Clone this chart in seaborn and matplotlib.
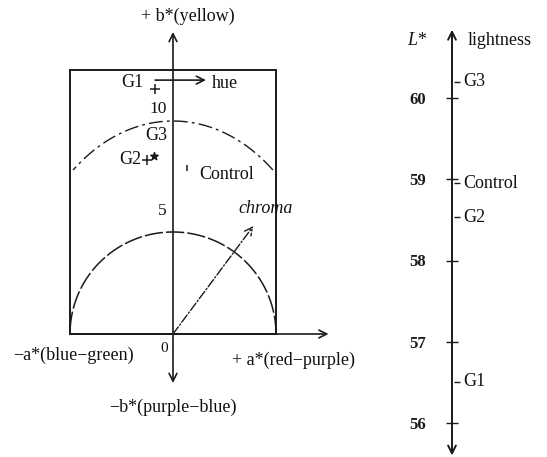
import numpy as np
import pandas as pd
import seaborn as sns
import matplotlib.pyplot as plt
from matplotlib.patches import Rectangle

# a*, b* of each group
ab_groups = ['G1', 'G2', 'G3', 'Control']
a_star = [-0.87, -1.26, -0.92, 0.68]
b_star = [11.5, 8.17, 8.35, 7.8]
ab_markers = ['+', '+', '*', '|']

# L* of each group (right scale)
L_groups = ['G3', 'Control', 'G2', 'G1']
L_star = [60.2, 58.95, 58.53, 56.51]
L_ticks = [56, 57, 58, 59, 60]

# reference arcs and chroma vector
small_arc_r = (5.0, 4.79)
big_arc_r = (7.6, 10.0)
chroma_tip = (3.9, 5.07)

sns.set_theme(style='white')
plt.rcParams['font.family'] = ['Liberation Serif', 'DejaVu Serif']
plt.rcParams['text.color'] = '#111111'

fig = plt.figure(figsize=(5.47, 4.57), dpi=100)

# ---------------- left: a*b* plane ----------------
ax1 = fig.add_axes([0, 0, 340 / 547, 1])
ax1.set_xlim(-173 / 20.6, 167 / 20.6)
ax1.set_ylim(-123 / 21.3, 334 / 21.3)
ax1.axis('off')

ax1.add_patch(Rectangle((-5, 0), 10, 12.39, fill=False, lw=1.4, color='k'))

arrow = dict(arrowstyle='->', color='k', lw=1.2, shrinkA=0, shrinkB=0,
             mutation_scale=14)
ax1.annotate('', xy=(0, 14.18), xytext=(0, -2.3),
             arrowprops=dict(arrow, arrowstyle='<->'))
ax1.annotate('', xy=(7.55, 0), xytext=(-5, 0), arrowprops=arrow)
ax1.annotate('', xy=(1.6, 11.92), xytext=(-0.87, 11.92), arrowprops=arrow)
ax1.annotate('', xy=chroma_tip, xytext=(0, 0),
             arrowprops=dict(arrow, linestyle='-.', lw=1.0))

t = np.linspace(0, np.pi, 200)
small = pd.DataFrame({'a': small_arc_r[0] * np.cos(t), 'b': small_arc_r[1] * np.sin(t)})
sns.lineplot(data=small, x='a', y='b', sort=False, estimator=None, color='k',
             lw=1.1, linestyle=(0, (12, 2)), ax=ax1)
t2 = np.linspace(np.arccos(4.85 / big_arc_r[0]), np.pi - np.arccos(4.85 / big_arc_r[0]), 200)
big = pd.DataFrame({'a': big_arc_r[0] * np.cos(t2), 'b': big_arc_r[1] * np.sin(t2)})
sns.lineplot(data=big, x='a', y='b', sort=False, estimator=None, color='k',
             lw=1.0, linestyle=(0, (10, 3, 2, 3)), ax=ax1)

for a, b, m in zip(a_star, b_star, ab_markers):
    sz = {'+': 45, '*': 30, '|': 18}[m]
    sns.scatterplot(x=[a], y=[b], marker=m, s=sz, color='k', linewidth=1.1,
                    edgecolor='k', ax=ax1)

fs = 13
ax1.text(-1.45, 11.83, 'G1', fontsize=fs, ha='right', va='center')
ax1.text(-1.55, 8.17, 'G2', fontsize=fs, ha='right', va='center')
ax1.text(-0.83, 9.3, 'G3', fontsize=fs, ha='center', va='center')
ax1.text(1.27, 7.5, 'Control', fontsize=fs, ha='left', va='center')
ax1.text(1.9, 11.74, 'hue', fontsize=fs, ha='left', va='center')
ax1.text(3.18, 5.9, 'chroma', fontsize=fs, ha='left', va='center', style='italic')
ax1.text(-0.3, 10.56, '10', fontsize=12.5, ha='right', va='center')
ax1.text(-0.3, 5.77, '5', fontsize=12.5, ha='right', va='center')
ax1.text(-0.25, -0.66, '0', fontsize=11, ha='right', va='center')
ax1.text(0.73, 14.93, '+ b*(yellow)', fontsize=fs, ha='center', va='center')
ax1.text(-7.75, -0.99, '−a*(blue−green)', fontsize=fs, ha='left', va='center')
ax1.text(2.88, -1.22, '+ a*(red−purple)', fontsize=fs, ha='left', va='center')
ax1.text(0.0, -3.43, '−b*(purple−blue)', fontsize=fs, ha='center', va='center')

# ---------------- right: L* scale ----------------
ax2 = fig.add_axes([340 / 547, 0, 207 / 547, 1])
ax2.patch.set_visible(False)
ax2.set_xlim(340, 547)
ax2.set_ylim(56 - 34 / 81.25, 60 + 98 / 81.25)
for s in ['top', 'right', 'bottom', 'left']:
    ax2.spines[s].set_visible(False)
ax2.spines['left'].set_position(('data', 452))
ax2.set_xticks([])
ax2.set_yticks(L_ticks)
ax2.set_yticklabels([str(v) for v in L_ticks], fontweight='bold')
ax2.tick_params(axis='y', left=True, direction='inout', length=8, width=1.0,
                pad=15, labelsize=12, colors='k')
ax2.set_xlabel('')
ax2.set_ylabel('')

ax2.annotate('', xy=(452, 60.84), xytext=(452, 55.6),
             arrowprops=dict(arrow, arrowstyle='<->', lw=1.4))

sns.scatterplot(x=[457] * len(L_star), y=L_star, marker='_', s=25, color='k',
                linewidth=1.0, ax=ax2)
for g, v in zip(L_groups, L_star):
    ax2.text(463, v, g, fontsize=fs, ha='left', va='center')

ax2.text(417, 60.71, 'L*', fontsize=fs, ha='center', va='center', style='italic')
ax2.text(468, 60.71, 'lightness', fontsize=fs, ha='left', va='center')

fig.savefig('out.png', dpi=100, facecolor='white')
